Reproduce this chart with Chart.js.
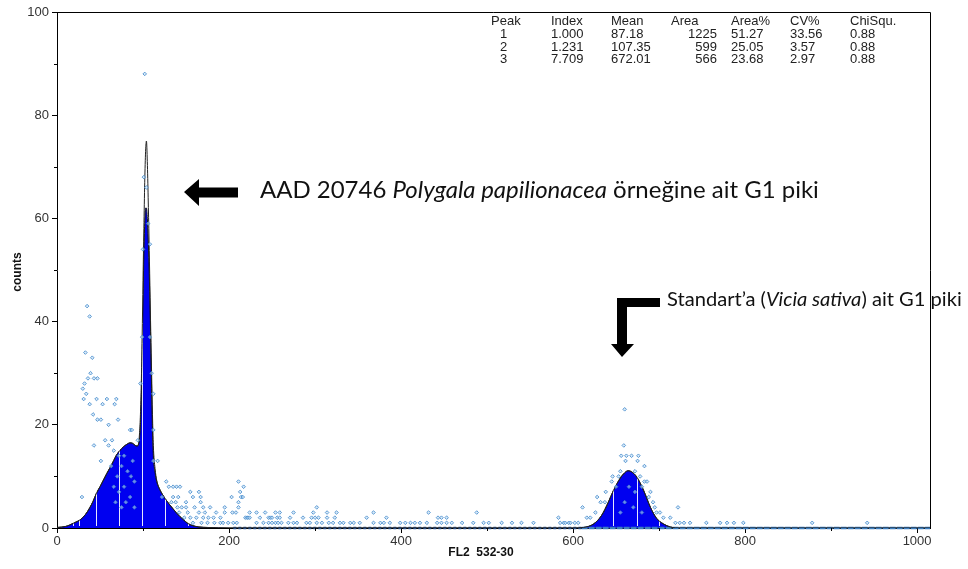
<!DOCTYPE html>
<html>
<head>
<meta charset="utf-8">
<script src="https://cdn.jsdelivr.net/npm/chart.js@4.4.1/dist/chart.umd.min.js"></script>
<style>
  html, body { margin: 0; padding: 0; background: #fff; }
  #wrap { width: 968px; height: 569px; }
</style>
</head>
<body>
<div id="wrap"><canvas id="hist" width="968" height="569"></canvas></div>
<script>
// fitted model (blue fill) and sum curve (black line), channel -> counts
const fitChannels = [0, 10, 15, 20, 27, 33, 38, 42, 46, 50, 54, 58, 62, 66, 69, 73, 77, 81, 85, 88, 91, 93, 95, 96, 97, 98, 99, 100, 101, 102, 103, 104, 105, 106, 107, 108, 109, 110, 111, 112, 114, 116, 120, 123, 127, 131, 135, 139, 143, 147, 152, 158, 165, 175, 200, 600, 612, 624, 633, 641, 647, 655, 660, 664, 668, 674, 682, 690, 697, 705, 713, 725, 1015];
const fillCounts = [0.1, 0.3, 0.6, 1.0, 1.6, 2.6, 3.9, 5.2, 6.8, 8.0, 9.3, 10.6, 11.8, 13.1, 14.1, 15.0, 15.7, 16.2, 16.5, 16.4, 16.0, 15.9, 16.3, 17.5, 20, 25, 33, 44, 53, 59, 62, 62, 60, 56, 51, 44, 36, 27, 19, 14, 10.8, 9.0, 7.3, 6.4, 5.4, 4.5, 3.7, 2.9, 2.2, 1.6, 0.9, 0.45, 0.2, 0.1, 0, 0, 0.1, 0.8, 2.4, 5.0, 7.3, 9.7, 10.7, 11.1, 10.9, 9.9, 7.3, 4.0, 1.9, 0.8, 0.2, 0, 0];
const curveCounts = [0.1, 0.3, 0.6, 1.0, 1.6, 2.6, 3.9, 5.2, 6.8, 8.0, 9.3, 10.6, 11.8, 13.1, 14.1, 15.0, 15.7, 16.2, 16.5, 16.4, 16.0, 15.9, 16.5, 18.5, 22, 28, 37, 48, 58, 67, 73, 75, 71, 64, 56, 47, 38, 30, 22, 16, 11.5, 9.2, 7.3, 6.4, 5.4, 4.5, 3.7, 2.9, 2.2, 1.6, 0.9, 0.45, 0.2, 0.1, 0, 0, 0.1, 0.8, 2.4, 5.0, 7.3, 9.7, 10.7, 11.1, 10.9, 9.9, 7.3, 4.0, 1.9, 0.8, 0.2, 0, 0];

// raw histogram points
const dotChannels = [35, 38, 33, 41, 39, 36, 43, 47, 32, 30, 34, 31, 46, 58, 69, 38, 53, 67, 42, 47, 51, 71, 60, 85, 56, 64, 43, 60, 51, 29,
  66, 72, 78, 88, 63, 75, 82, 70, 86, 90, 66, 78, 72, 85, 68, 80, 75, 90,
  102, 101, 104, 106, 108, 100, 99, 108, 110, 97, 112, 112, 87, 94,
  112, 117, 127, 130, 135, 139, 143, 155, 165, 122, 135, 141, 158, 167, 133, 138, 150, 167, 140, 145, 150, 160, 170, 178, 142, 152, 165, 172, 185, 148, 155, 162, 170, 176, 182, 190, 158, 168, 175, 183,
  211, 217, 213, 203, 214, 216, 211, 195, 211, 302, 195, 204, 208, 224, 232, 242, 254, 259, 275, 298, 314, 325, 368, 432, 488,
  219, 221, 222, 224, 236, 246, 248, 250, 256, 259, 271, 286, 296, 300, 304, 314, 323, 360, 383, 443, 447, 453, 583,
  190, 193, 199, 205, 209, 232, 240, 246, 250, 254, 257, 261, 269, 275, 279, 290, 294, 302, 308, 316, 321, 329, 333, 341, 345, 352, 368, 376, 380, 387, 399, 405, 411, 416, 422, 430, 442, 447, 453, 459, 471, 484, 496, 502, 517, 529, 540, 554, 589, 595,
  660, 659, 656, 662, 668, 676, 661, 675, 683, 655, 672, 646, 678, 645, 683, 686, 680, 638, 672, 690, 628, 688, 632, 637, 693, 611, 695, 722, 626, 697, 701, 616, 620, 705, 713,
  585, 591, 597, 602, 606, 719, 724, 729, 736, 755, 771, 779, 787, 798, 878, 942,
  653, 650, 665, 660, 670, 655, 680];
const dotCounts = [43, 41, 34, 33, 30, 29, 29, 29, 28, 27, 26, 25, 25, 25, 25, 24, 24, 24, 22, 21, 21, 21, 20, 19, 17, 17, 16, 16, 13, 6,
  15, 14, 14, 13, 12, 12, 11, 10, 10, 9, 8, 8, 7, 6, 5, 5, 4, 4,
  88, 68, 66, 59, 55, 54, 37, 37, 30, 28, 26, 19, 19, 17,
  13, 13, 9, 8, 8, 8, 8, 7, 7, 6, 6, 6, 6, 6, 5, 5, 5, 5, 4, 4, 4, 4, 4, 4, 3, 3, 3, 3, 3, 2, 2, 2, 2, 2, 2, 2, 1, 1, 1, 1,
  9, 8, 7, 6, 6, 6, 5, 4, 4, 4, 3, 3, 3, 3, 3, 3, 3, 3, 3, 3, 3, 3, 3, 3, 3,
  2, 2, 2, 2, 2, 2, 2, 2, 2, 2, 2, 2, 2, 2, 2, 2, 2, 2, 2, 2, 2, 2, 2,
  1, 1, 1, 1, 1, 1, 1, 1, 1, 1, 1, 1, 1, 1, 1, 1, 1, 1, 1, 1, 1, 1, 1, 1, 1, 1, 1, 1, 1, 1, 1, 1, 1, 1, 1, 1, 1, 1, 1, 1, 1, 1, 1, 1, 1, 1, 1, 1, 1, 1,
  23, 16, 14, 14, 14, 14, 13, 13, 12, 11, 11, 10, 10, 9, 9, 9, 8, 7, 7, 7, 6, 6, 5, 5, 5, 4, 4, 4, 3, 3, 3, 2, 2, 2, 2,
  1, 1, 1, 1, 1, 1, 1, 1, 1, 1, 1, 1, 1, 1, 1, 1,
  10, 8, 8, 5, 4, 3, 3];

// zero-count channels drawn along the baseline
const baseChannels = [205, 610, 1015];
const baseCounts = [0, 0, 0];

// white stripes seen inside the filled model
const stripeChannels = [19, 26, 45, 72, 98.5, 125.5, 152, 647, 674, 700];

const xTicks = [0, 200, 400, 600, 800, 1000];
const yTicks = [0, 20, 40, 60, 80, 100];

const tableHead = ['Peak', 'Index', 'Mean', 'Area', 'Area%', 'CV%', 'ChiSqu.'];
const tableRows = [
  ['1', '1.000', '87.18', '1225', '51.27', '33.56', '0.88'],
  ['2', '1.231', '107.35', '599', '25.05', '3.57', '0.88'],
  ['3', '7.709', '672.01', '566', '23.68', '2.97', '0.88']
];

function pts(xs, ys) { return xs.map((x, i) => ({x: x, y: ys[i]})); }

const BLUE = 'rgb(0,0,240)';

const decor = {
  id: 'decor',
  afterDatasetDraw(chart, args) {
    if (args.index !== 2) return;
    const {ctx, chartArea: a, scales: {x}} = chart;
    ctx.save();
    ctx.globalCompositeOperation = 'source-atop';
    ctx.strokeStyle = 'rgba(255,255,255,0.9)';
    ctx.lineWidth = 1;
    stripeChannels.forEach(c => {
      const px = Math.round(x.getPixelForValue(c)) + 0.5;
      ctx.beginPath(); ctx.moveTo(px, a.top); ctx.lineTo(px, a.bottom - 2); ctx.stroke();
    });
    ctx.restore();
  },
  afterDraw(chart) {
    const {ctx, chartArea: a, scales: {x, y}} = chart;
    ctx.save();
    // frame top/right
    ctx.strokeStyle = '#000'; ctx.lineWidth = 1;
    ctx.beginPath();
    ctx.moveTo(a.left, a.top + 0.5); ctx.lineTo(a.right + 0.5, a.top + 0.5); ctx.lineTo(a.right + 0.5, a.bottom);
    ctx.stroke();
    // minor ticks
    ctx.beginPath();
    for (let v = 10; v < 100; v += 20) {
      const py = Math.round(y.getPixelForValue(v)) + 0.5;
      ctx.moveTo(a.left - 3, py); ctx.lineTo(a.left, py);
    }
    for (let v = 100; v < 1015; v += 200) {
      const px = Math.round(x.getPixelForValue(v)) + 0.5;
      ctx.moveTo(px, a.bottom); ctx.lineTo(px, a.bottom + 3);
    }
    ctx.stroke();

    // axis titles
    ctx.fillStyle = '#111';
    ctx.font = 'bold 12px "Liberation Sans", Arial, sans-serif';
    ctx.textAlign = 'center'; ctx.textBaseline = 'middle';
    ctx.fillText('FL2  532-30', 481, 553);
    ctx.save();
    ctx.translate(18, 272); ctx.rotate(-Math.PI / 2);
    ctx.fillText('counts', 0, 0);
    ctx.restore();

    // stats table
    ctx.font = '13px "Liberation Sans", Arial, sans-serif';
    ctx.fillStyle = '#222';
    ctx.textBaseline = 'alphabetic';
    const colX = [491, 551, 611, 671, 731, 790, 850];
    ctx.textAlign = 'left';
    tableHead.forEach((t, i) => ctx.fillText(t, colX[i], 25));
    tableRows.forEach((row, r) => {
      const by = 38 + r * 12.5;
      row.forEach((t, i) => {
        if (i === 0) { ctx.textAlign = 'left'; ctx.fillText(t, 500, by); }
        else if (i === 3) { ctx.textAlign = 'right'; ctx.fillText(t, 717, by); }
        else { ctx.textAlign = 'left'; ctx.fillText(t, colX[i], by); }
      });
    });

    // annotation arrows
    ctx.fillStyle = '#000';
    ctx.beginPath();
    ctx.moveTo(184, 192); ctx.lineTo(199, 179); ctx.lineTo(199, 187.5); ctx.lineTo(238, 187.5);
    ctx.lineTo(238, 197.5); ctx.lineTo(199, 197.5); ctx.lineTo(199, 206); ctx.closePath();
    ctx.fill();
    ctx.beginPath();
    ctx.moveTo(660, 298); ctx.lineTo(617, 298); ctx.lineTo(617, 344); ctx.lineTo(611, 344);
    ctx.lineTo(622, 357); ctx.lineTo(634, 344); ctx.lineTo(627, 344); ctx.lineTo(627, 307); ctx.lineTo(660, 307);
    ctx.closePath();
    ctx.fill();

    // annotation texts
    rich(ctx, [['AAD 20746 ', false], ['Polygala papilionacea', true], [' örneğine ait G1 piki', false]], 260, 198, 559);
    rich(ctx, [['Standart’a (', false], ['Vicia sativa', true], [') ait G1 piki', false]], 667, 306, 295);
    ctx.restore();
  }
};

function rich(ctx, segs, x0, base, width) {
  const fam = 'Lato, "Open Sans", sans-serif';
  const f = (it, s) => (it ? 'italic ' : '') + s + 'px ' + fam;
  let w = 0;
  segs.forEach(([t, it]) => { ctx.font = f(it, 20); w += ctx.measureText(t).width; });
  const size = 20 * width / w;
  let cx = x0;
  ctx.textAlign = 'left'; ctx.textBaseline = 'alphabetic'; ctx.fillStyle = '#111';
  segs.forEach(([t, it]) => {
    ctx.font = f(it, size);
    ctx.fillText(t, cx, base);
    cx += ctx.measureText(t).width;
  });
}

new Chart(document.getElementById('hist'), {
  type: 'scatter',
  data: {
    datasets: [
      {
        data: pts(dotChannels, dotCounts), order: 0,
        pointStyle: 'rectRot', pointRadius: 1.8, borderWidth: 1,
        borderColor: 'rgba(70,140,205,0.85)', backgroundColor: 'rgba(190,220,245,0.6)'
      },
      {
        type: 'line', data: pts(fitChannels, curveCounts), order: 1,
        borderColor: '#222', borderWidth: 1, pointRadius: 0, fill: false,
        cubicInterpolationMode: 'monotone'
      },
      {
        type: 'line', data: pts(fitChannels, fillCounts), order: 3,
        borderColor: '#111', borderWidth: 1, backgroundColor: BLUE, pointRadius: 0,
        fill: 'origin', cubicInterpolationMode: 'monotone'
      },
      {
        type: 'line', data: pts(baseChannels, baseCounts), order: 2, clip: 4,
        borderWidth: 2.5, pointRadius: 0,
        segment: {
          borderColor: c => c.p0DataIndex === 0 ? 'rgba(40,80,140,0.9)' : 'rgb(60,125,190)',
          borderDash: c => c.p0DataIndex === 0 ? [3, 2] : [6, 1]
        }
      }
    ]
  },
  options: {
    responsive: false,
    animation: false,
    layout: {padding: {top: 12, right: 38, left: 0, bottom: 0}},
    plugins: {legend: {display: false}, tooltip: {enabled: false}},
    scales: {
      x: {
        type: 'linear', min: 0, max: 1015,
        afterFit: s => { s.height = 41; },
        afterBuildTicks: s => { s.ticks = xTicks.map(v => ({value: v})); },
        ticks: {color: '#333', font: {family: '"Liberation Sans", Arial', size: 13}, padding: 1, maxRotation: 0, autoSkip: false,
          callback: v => String(v)},
        grid: {drawOnChartArea: false, tickLength: 5, color: '#000'},
        border: {color: '#000', width: 1}
      },
      y: {
        min: 0, max: 100,
        afterFit: s => { s.width = 57; },
        afterBuildTicks: s => { s.ticks = yTicks.map(v => ({value: v})); },
        ticks: {color: '#333', font: {family: '"Liberation Sans", Arial', size: 13}, padding: 3,
          callback: v => String(v)},
        grid: {drawOnChartArea: false, tickLength: 5, color: '#000'},
        border: {color: '#000', width: 1}
      }
    }
  },
  plugins: [decor]
});
</script>
</body>
</html>
